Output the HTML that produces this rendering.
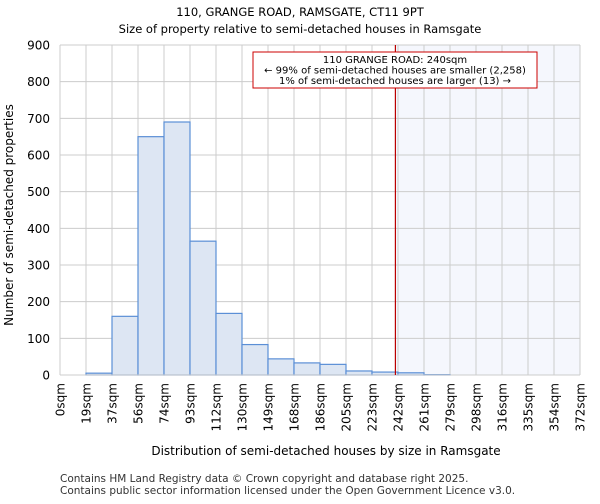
<!DOCTYPE html>
<html><head><meta charset="utf-8"><style>
body{margin:0;background:#fff;font-family:"DejaVu Sans","Liberation Sans",sans-serif;}
</style></head><body>
<svg id="c" width="600" height="500" xmlns="http://www.w3.org/2000/svg">
<text x="300" y="16" text-anchor="middle" font-size="11.5">110, GRANGE ROAD, RAMSGATE, CT11 9PT</text>
<text x="300" y="33" text-anchor="middle" font-size="11.5">Size of property relative to semi-detached houses in Ramsgate</text>
<g id="plot"></g>
<text x="326" y="455" text-anchor="middle" font-size="12">Distribution of semi-detached houses by size in Ramsgate</text>
<text transform="translate(13,215) rotate(-90)" text-anchor="middle" font-size="12">Number of semi-detached properties</text>
<text x="60" y="482" font-size="10.5" fill="#333">Contains HM Land Registry data © Crown copyright and database right 2025.</text>
<text x="60" y="494" font-size="10.5" fill="#333">Contains public sector information licensed under the Open Government Licence v3.0.</text>
</svg>
<script>
const tickLabels=["0sqm","19sqm","37sqm","56sqm","74sqm","93sqm","112sqm","130sqm","149sqm","168sqm","186sqm","205sqm","223sqm","242sqm","261sqm","279sqm","298sqm","316sqm","335sqm","354sqm","372sqm"];
const counts=[0,5,160,650,690,365,168,83,44,33,29,11,8,6,1,0,0,0,0,0];
const yTicks=[0,100,200,300,400,500,600,700,800,900];
const markerBin=12.9;
const NS="http://www.w3.org/2000/svg";
const L=60,R=580,T=45,B=375,yMax=900;
const bw=(R-L)/counts.length;
const x=i=>L+i*bw;
const y=v=>B-(v/yMax)*(B-T);
const g=document.getElementById('plot');
function mk(t,a){const e=document.createElementNS(NS,t);for(const k in a)e.setAttribute(k,a[k]);g.appendChild(e);return e;}
const mx=x(markerBin);
let e=mk('rect',{x:mx,y:T,width:R-mx,height:B-T,fill:'#f5f7fd'});


yTicks.forEach(v=>{
 let l=mk('line',{x1:L,x2:R,y1:y(v),y2:y(v),stroke:'#ccc','stroke-width':1});
 
 
 let t=mk('text',{x:L-10,y:y(v)+4.5,'text-anchor':'end','font-size':12});
 t.textContent=v;
 
 
});
tickLabels.forEach((s,i)=>{
 let l=mk('line',{x1:x(i),x2:x(i),y1:T,y2:B,stroke:'#ccc','stroke-width':1});
 
 
 let t=mk('text',{transform:`translate(${x(i)+4.5},${B+8}) rotate(-90)`,'text-anchor':'end','font-size':12});
 t.textContent=s;
 
 
});
counts.forEach((v,i)=>{
 if(v<=0)return;
 let r=mk('rect',{x:x(i),y:y(v),width:bw,height:B-y(v),fill:'#dde6f3',stroke:'#5b8fd6','stroke-width':1.2});
 
 
});
e=mk('line',{x1:L,x2:R,y1:B,y2:B,stroke:'#ccc'});


e=mk('line',{x1:mx,x2:mx,y1:T,y2:B,stroke:'#b00','stroke-width':1.2});


e=mk('rect',{x:253,y:52,width:284,height:36,fill:'#fff',stroke:'#c00','stroke-width':1});


["110 GRANGE ROAD: 240sqm","← 99% of semi-detached houses are smaller (2,258)","1% of semi-detached houses are larger (13) →"].forEach((s,i)=>{
 let t=mk('text',{x:395,y:63+i*10.5,'text-anchor':'middle','font-size':10});
 t.textContent=s;
 
 
});
</script>
</body></html>
